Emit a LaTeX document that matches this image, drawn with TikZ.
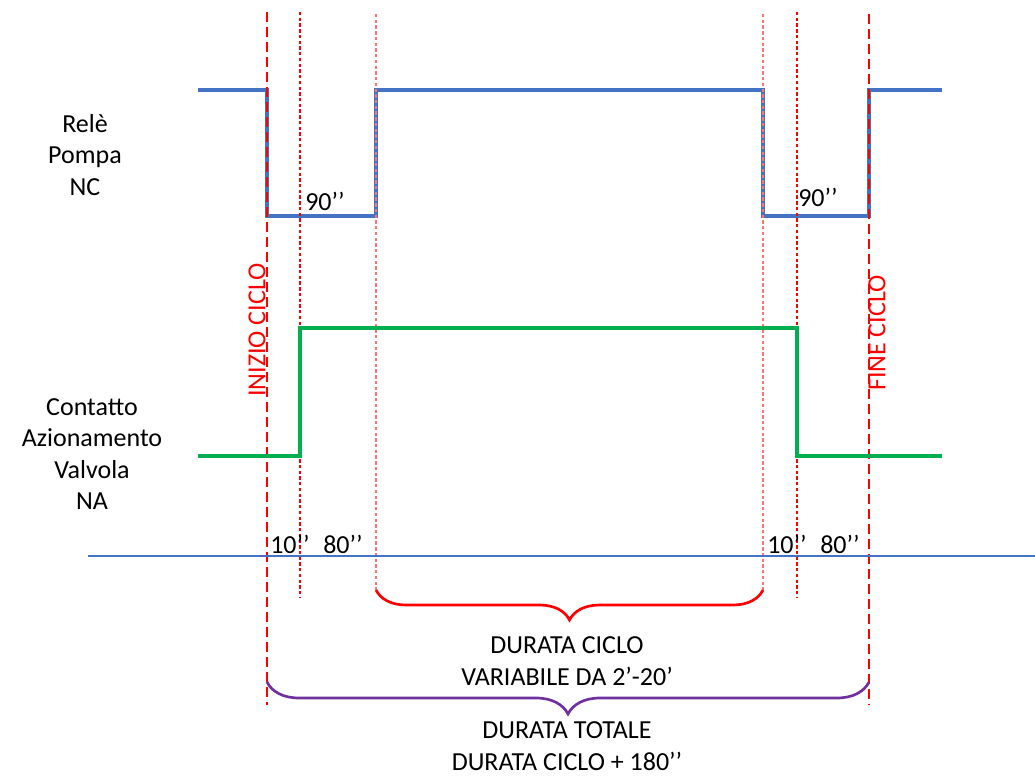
\documentclass[tikz,border=0pt]{standalone}
\usepackage{fontspec}
\setmainfont{Carlito}
\usepackage{xcolor}
\usepackage{tikz}
\usetikzlibrary{decorations.pathreplacing}

\definecolor{pumpblue}{HTML}{4472C4}
\definecolor{valvegreen}{HTML}{00B050}
\definecolor{totpurple}{HTML}{7030A0}

\tikzset{
  txt/.style={font=\fontsize{19.5}{23.5}\selectfont, align=center, inner sep=0pt},
  pump/.style={pumpblue, line width=3pt},
  valve/.style={valvegreen, line width=3.6pt},
  limit/.style={red, line width=1.8pt, dash pattern=on 7.5pt off 3.75pt},
  sub/.style={red, line width=1pt, dash pattern=on 2.5pt off 1.8pt},
  faint/.style={red!55, line width=1pt, dash pattern=on 2.5pt off 1.8pt},
  span/.style={line width=2pt, decorate, decoration={brace, mirror, amplitude=#1}}
}

\begin{document}
\begin{tikzpicture}[x=0.75pt,y=-0.75pt]
    \useasboundingbox (0,0) rectangle (1035,778);

    % signal labels
    \node[txt] (rele) at (85,155) {Relè\\Pompa\\NC};
    \node[txt] (valvola) at (92,454) {Contatto\\Azionamento\\Valvola\\NA};

    % relay signal
    \draw[pump] (198,90) -- (267,90) -- (267,216) -- (376,216) -- (376,90)
      -- (763,90) -- (763,216) -- (869,216) -- (869,90) -- (942,90);

    % time marks
    \draw[limit] (267,12) -- (267,705);
    \draw[sub] (300,12) -- (300,597);
    \draw[faint] (376,14) -- (376,590);
    \draw[faint] (763,14) -- (763,590);
    \draw[sub] (797,12) -- (797,597);
    \draw[limit] (869,14) -- (869,705);

    % valve signal
    \draw[valve] (198,456) -- (300,456) -- (300,328) -- (797,328)
      -- (797,456) -- (942,456);

    % time axis
    \draw[pumpblue, line width=0.8pt] (88,556) -- (1035,556);

    \node[txt, red, rotate=90] (inizio) at (257,330) {INIZIO CICLO};
    \node[txt, red, rotate=90] (fine) at (877,333) {FINE CICLO};

    \node[txt, anchor=base west] (p1) at (305,210) {90’’};
    \node[txt, anchor=base west] (p2) at (798,206) {90’’};
    \node[txt, anchor=base west] (a1) at (270,553) {10’’};
    \node[txt, anchor=base west] (b1) at (323,553) {80’’};
    \node[txt, anchor=base west] (a2) at (767,553) {10’’};
    \node[txt, anchor=base west] (b2) at (820,553) {80’’};

    % braces
    \draw[span=22.5pt, red] (376,590) -- (763,590);
    \node[txt] (ciclo) at (567,661) {DURATA CICLO\\VARIABILE DA 2’-20’};
    \draw[span=24pt, totpurple] (267,682) -- (869,682);
    \node[txt] (totale) at (567,746) {DURATA TOTALE\\DURATA CICLO + 180’’};
\end{tikzpicture}
\end{document}
